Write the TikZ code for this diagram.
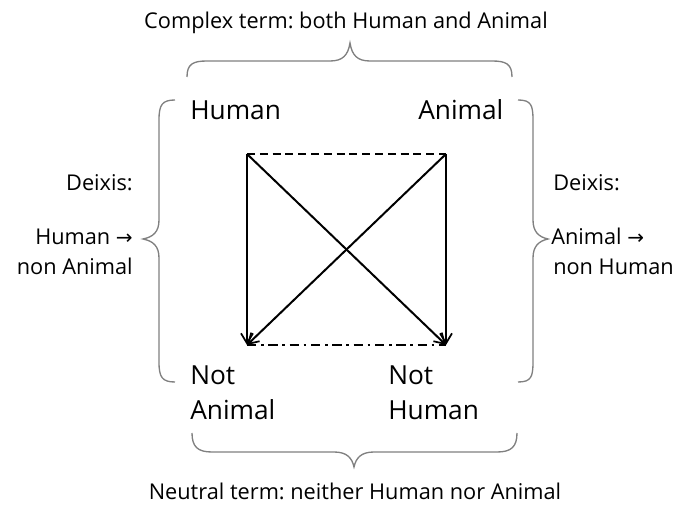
\documentclass[tikz,border=0pt]{standalone}
\usepackage{fontspec}
\setmainfont{Open Sans}
\newfontfamily\arrowfont{DejaVu Sans}
\usetikzlibrary{arrows.meta}
\frenchspacing
\begin{document}
\begin{tikzpicture}[x=0.75pt,y=-0.75pt,
  big/.style={font=\fontsize{19.7pt}{26pt}\selectfont, inner sep=0pt, anchor=base west},
  small/.style={font=\fontsize{16.3pt}{22.5pt}\selectfont, inner sep=0pt},
  arr/.style={line width=1.5pt, -{Straight Barb[length=7.5pt,width=9pt,line width=1.3pt]}},
  brace/.style={draw=black!50, line width=1pt}]
\useasboundingbox (0,0) rectangle (676,506);
% corners
\coordinate (TL) at (247,154);
\coordinate (TR) at (446,154);
\coordinate (BL) at (247,345);
\coordinate (BR) at (446,345);
% lines
\draw[line width=1.5pt, dash pattern=on 6pt off 3.6pt] (TL) -- (TR);
\draw[line width=1.5pt, dash pattern=on 7pt off 3.5pt on 2pt off 3.5pt] (BL) -- (BR);
\draw[arr] (TL) -- (BL);
\draw[arr] (TL) -- (BR);
\draw[arr] (TR) -- (BL);
\draw[arr] (TR) -- (BR);
% big labels
\node[big] (h) at (190,120) {Human};
\node[big] (a) at (418,120) {Animal};
\node[big] (na1) at (190,385) {Not};
\node[big] (na2) at (190,420) {Animal};
\node[big] (nh1) at (388,385) {Not};
\node[big] (nh2) at (388,420) {Human};
% titles
\node[small, anchor=base] (top) at (346,29) {Complex term: both Human and Animal};
\node[small, anchor=base] (bot) at (355,500) {Neutral term: neither Human nor Animal};
% deixis left
\node[small, anchor=base east] (dl1) at (133,191) {Deixis:};
\node[small, anchor=base east] (dl2) at (133,245) {Human {\arrowfont\fontsize{15pt}{18pt}\selectfont →}};
\node[small, anchor=base east] (dl3) at (133,275) {non Animal};
% deixis right
\node[small, anchor=base west] (dr1) at (553,191) {Deixis:};
\node[small, anchor=base west] (dr2) at (551,245) {Animal {\arrowfont\fontsize{15pt}{18pt}\selectfont →}};
\node[small, anchor=base west] (dr3) at (553,275) {non Human};
% braces
\draw[brace] (187,77) .. controls (187,64) and (193,61) .. (207,61) -- (330,61)
  .. controls (343,61) and (348,55) .. (350,43) .. controls (352,55) and (357,61) .. (370,61)
  -- (492,61) .. controls (506,61) and (512,64) .. (512,77);
\draw[brace] (192,433) .. controls (192,447) and (198,452) .. (212,452) -- (334,452)
  .. controls (347,452) and (352,458) .. (354,467) .. controls (356,458) and (361,452) .. (374,452)
  -- (497,452) .. controls (511,452) and (517,447) .. (517,433);
\draw[brace] (175,100) .. controls (162,100) and (159,105) .. (159,120) -- (159,220)
  .. controls (159,232) and (153,237) .. (143,239) .. controls (153,241) and (159,246) .. (159,258)
  -- (159,362) .. controls (159,377) and (162,382) .. (175,382);
\draw[brace] (518,100) .. controls (531,100) and (533,105) .. (533,120) -- (533,220)
  .. controls (533,232) and (539,237) .. (548,239) .. controls (539,241) and (533,246) .. (533,258)
  -- (533,362) .. controls (533,377) and (531,382) .. (518,382);
\end{tikzpicture}
\end{document}
